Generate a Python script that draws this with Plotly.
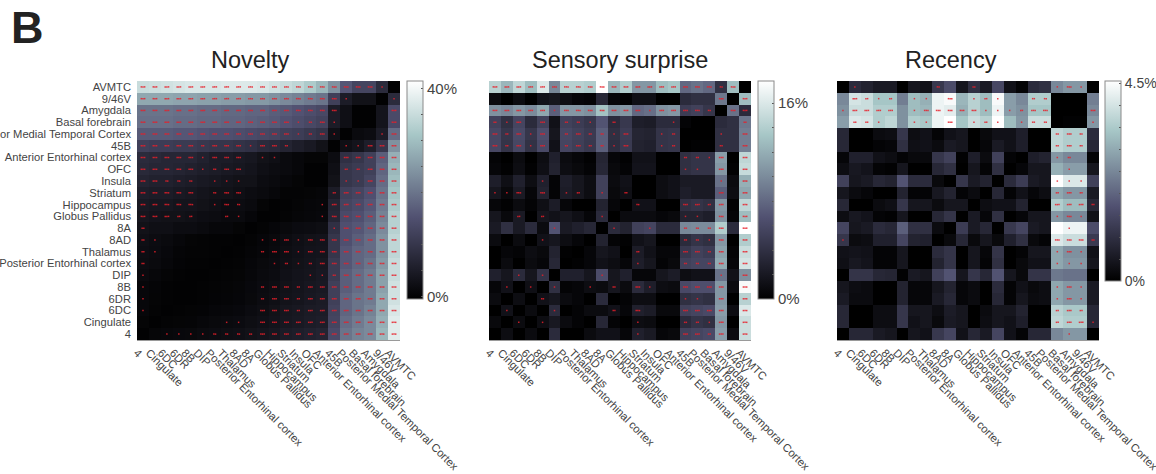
import plotly.graph_objects as go

REGIONS = ["AVMTC", "9/46V", "Amygdala", "Basal forebrain", "Posterior Medial Temporal Cortex", "45B",
           "Anterior Entorhinal cortex", "OFC", "Insula", "Striatum", "Hippocampus", "Globus Pallidus",
           "8A", "8AD", "Thalamus", "Posterior Entorhinal cortex", "DIP", "8B", "6DR", "6DC", "Cingulate", "4"]
X_LABELS = REGIONS[::-1]

# Novelty, percent
NOVELTY = [
 [35,35.5,36,36.5,37,37,37,37.5,37.5,37.5,37,36,35,34,32,29,24,16,13,13,8,0],
 [27,27,27,26.5,26.5,26,26,25.5,25.5,25,25,24,23,22,21,20,12,5,3,3,0,8],
 [20,20,20,19.5,19.5,19,19,18.5,18.5,18,18,17,16.5,15.5,14.5,13.5,5,2.5,0,0,3.5,14],
 [19.5,19.5,19.5,19,19,18.5,18.5,18,18,17.5,17,16.5,15.5,14.5,13.5,12.5,5,2.5,0,0,3.5,14],
 [16.5,16.5,16.5,16,16,15.5,15,15,14.5,14,13.5,13,12,11.5,10.5,9.5,2.5,0,1.5,2,5,19],
 [12,11.5,11.5,11,11,10.5,10,10,9.5,9,8,7.5,6.5,5.5,4.5,3,0,2.5,3.5,5.5,10,24],
 [8,7.5,7,7,7,6,5,5,4.5,4,3,2.5,1.5,1,0.5,0.5,2,9,10,12,17,28],
 [7.5,7,7,6.5,6,5.5,5,4.5,4,3.5,2.5,2,1.5,1,0,0,2.5,10,11,12,18,29],
 [6.5,6,6,5.5,5,4.5,4,3.5,3,3,2,1.5,1,0.5,0,0,3,10,11,13,19,30],
 [5.5,5,5,4.5,4,3.5,3,3,2.5,2,1.5,1,0.3,0.3,0.5,0.7,5,12,13,15,20,31],
 [4.5,4,4,3.5,3.5,3,2.5,2,2,1.5,0.5,0,0.2,0.5,0.8,1,6.5,13,14,16,21,32],
 [3.8,3.3,3,3,2.7,2.2,2,1.5,1.5,0.8,0,0,0.3,0.7,1,1.2,7,14,15,17,22,33],
 [3,2.5,2.5,2,2,1.5,1,1,0.5,0,0.3,0.8,1.3,1.8,2,2.3,9,15,16,18,23,33],
 [2.5,2,1.5,1,0.5,0.3,0.2,0.2,0,0.3,0.8,1.3,2,2.5,3,3.3,10,15,17,19,24,34],
 [2.2,1.8,1.2,0.6,0.3,0.3,0.1,0,0.2,0.6,1,1.5,2.3,2.8,3.3,3.5,10,16,18,19,24,34],
 [2,1.5,1,0.4,0.2,0.1,0,0.1,0.3,0.8,1.3,1.8,2.5,3,3.5,4,11,16,18,20,25,35],
 [1.5,1,0.5,0.2,0,0,0.2,0.3,0.5,1,1.5,2,2.8,3.3,3.7,4.3,11,17,19,21,26,35],
 [1,0.6,0.2,0,0,0.1,0.3,0.5,0.7,1.2,1.8,2.3,3,3.5,4,4.5,12,17,19,21,26,36],
 [1,0.5,0.2,0,0,0.2,0.4,0.6,0.8,1.3,2,2.5,3.2,3.7,4.3,4.8,12,18,20,21,27,36],
 [1,0.3,0,0.2,0.3,0.4,0.8,1,1.2,1.8,2.3,3,3.8,4.2,4.8,5,12.5,18,20,22,27,37],
 [0.5,0,0.3,0.5,0.6,1,1.3,1.5,1.8,2.3,2.8,3.3,4,4.5,5,5.5,13,19,21,23,28,38],
 [0,0.7,1,1.2,1.3,1.7,2,2.3,2.5,3,3.5,4,5,5.5,6,6.5,14,20,22,23,29,38],
]
NOVELTY_STARS = [
 "3333333333333333333310","3333333333333333310001","3333333333333333300003",
 "3333333333333123100003","3333333333333123100013","3333323331332000011333",
 "3333313330110000033333","3333312330000000022333","3322201110000000011333",
 "3333302330000000233333","3333301320000001333333","3332200210000001333333",
 "2000000000000000133333","2100000000123133333333","2100000000233133333333",
 "2000000000012123333333","1000000000000011233333","1000000000233233333333",
 "1000000000233233333333","1000000000333233333333","0000000110333333333333",
 "0011112222333333333333",
]

# Sensory surprise, percent of the colour-bar length
SENSORY_PCT_PER_UNIT = 0.178
SENSORY = [
 [80,70,82,72,90,55,80,80,78,100,70,78,60,60,72,75,45,48,45,22,72,0],
 [5,0,5,0,8,10,6,3,2,18,3,1,7,7,0,0,20,22,22,50,0,72],
 [58,55,60,56,65,42,60,60,58,74,58,60,45,47,58,60,28,30,25,0,48,20],
 [30,22,32,20,30,8,30,28,25,38,20,26,14,13,20,20,2,0,0,20,22,50],
 [33,25,34,25,36,10,33,30,27,42,22,28,17,16,24,25,0,0,0,22,22,52],
 [33,24,33,23,34,8,32,29,26,42,21,27,16,15,24,25,0,1,1,22,22,52],
 [2,0,5,0,6,15,5,3,1,17,3,1,8,8,0,0,22,24,24,62,0,82],
 [3,1,6,1,7,16,6,4,2,18,4,2,9,9,0,0,22,24,24,60,1,84],
 [14,7,15,6,15,2,14,10,6,30,5,8,0,0,6,8,12,12,12,48,5,68],
 [10,4,12,3,16,2,13,10,6,30,4,7,0,0,6,8,14,12,12,42,6,65],
 [3,1,5,2,7,13,3,0,0,16,3,0,8,8,0,0,22,24,22,60,1,82],
 [10,4,12,0,10,8,10,7,3,20,0,5,5,5,3,4,16,16,14,58,2,72],
 [12,22,12,20,5,38,12,15,18,0,20,16,30,32,20,20,55,56,56,78,20,100],
 [5,0,5,0,8,10,6,3,0,16,2,1,8,10,0,0,20,24,22,60,0,78],
 [0,3,2,6,4,16,1,0,3,10,8,0,13,8,3,3,26,30,28,63,2,85],
 [0,5,0,5,3,18,0,1,3,8,6,3,14,10,2,4,30,32,32,66,3,88],
 [15,10,20,10,24,0,15,15,10,35,10,15,3,3,10,13,6,8,8,48,8,58],
 [3,8,0,7,0,22,2,3,6,5,10,5,20,14,6,5,34,36,36,60,5,98],
 [5,0,6,0,8,10,5,3,0,20,0,2,6,6,0,0,22,24,22,60,0,80],
 [0,8,0,5,0,20,0,2,5,5,8,3,15,13,4,4,30,32,34,62,6,90],
 [4,0,5,0,6,11,5,2,0,18,2,0,6,5,0,0,20,24,22,60,0,85],
 [0,6,0,5,0,20,0,0,5,8,8,3,15,12,3,4,30,32,34,62,5,85],
]
SENSORY_STARS = [
 "3333333333333333333230","0000000000000000000303","3333313333333133332033",
 "2130302210200001000002","3231302322130012000103","3231302322130012000203",
 "0000000000000000221303","0000000000000000110303","0000100000000000000103",
 "1130301201020000000303","0000000000002000332303","0020200001000000110303",
 "0000010000100100222303","0000100000000000221303","0000000000002000332303",
 "0000000000001000222303","0010100001000000000103","0101010010203100333303",
 "0000200000000000110303","0100010000203000333303","0010100000001000221303",
 "0000000000001000332303",
]

# Recency, percent of the colour-bar length
RECENCY_PCT_PER_UNIT = 0.0455
RECENCY = [
 [0,20,16,12,12,0,10,8,26,35,10,22,12,33,8,2,20,22,55,60,60,0],
 [55,88,85,75,75,52,72,68,95,98,70,80,72,98,62,55,78,78,0,0,0,52],
 [58,85,85,78,78,58,72,70,95,92,68,80,72,95,62,58,75,75,0,0,0,55],
 [62,90,88,78,82,58,78,76,95,100,75,85,80,100,72,60,85,85,0,1,1,60],
 [18,0,0,5,6,25,6,8,2,8,10,0,4,8,8,14,0,0,82,78,78,20],
 [18,0,0,2,3,22,7,8,5,12,10,0,3,12,8,14,0,0,82,78,78,18],
 [3,15,15,8,6,2,4,4,25,30,1,14,5,30,2,0,14,16,60,55,55,2],
 [6,11,9,2,1,10,0,0,18,22,0,10,2,22,0,3,10,10,68,62,62,10],
 [30,10,12,18,16,38,20,20,4,0,25,12,16,0,20,28,12,10,100,90,90,30],
 [10,5,3,0,0,16,2,2,11,16,2,5,0,18,2,8,3,6,65,60,60,12],
 [18,0,0,5,7,25,10,10,5,10,10,0,6,8,8,16,0,0,78,72,72,18],
 [6,11,9,2,1,10,0,0,18,24,0,12,3,22,0,3,10,10,60,55,55,8],
 [32,10,12,20,18,42,22,22,5,0,28,12,18,0,26,32,12,10,100,95,95,35],
 [25,5,6,15,15,32,16,15,0,4,18,4,10,4,15,22,4,2,90,85,85,27],
 [8,9,8,2,2,10,0,0,20,24,0,10,3,24,0,2,10,10,65,58,58,8],
 [7,11,9,2,2,10,0,0,16,24,0,10,2,22,0,4,8,8,65,60,60,10],
 [0,24,24,18,17,1,12,10,30,38,10,25,18,38,10,4,24,24,50,48,48,0],
 [10,6,5,0,0,16,3,3,10,16,3,5,0,20,2,8,4,6,65,60,60,12],
 [12,5,5,0,0,16,3,3,12,18,3,5,0,18,2,10,5,6,65,60,60,12],
 [18,0,0,6,6,25,10,10,6,13,10,0,5,10,10,16,0,0,80,76,76,18],
 [18,0,0,6,6,25,8,10,4,12,10,0,6,10,8,14,0,0,82,78,78,18],
 [0,18,18,12,10,0,10,8,26,32,8,18,12,32,8,2,18,18,55,60,60,0],
]
RECENCY_STARS = [
 "0100000020020000001310","0321201103012100220000","1333301333331112330003",
 "0221001103012101220001","0000000000000000002320","0000000000000000002320",
 "0000000000000000001200","0000000000000000000100","0000000000000000001110",
 "0000000000000000002320","0000000000000000003332","0000000000000000001310",
 "0000000000000000000100","1000000000000000003332","0000000000000000001310",
 "0000000000000000001110","0000000000000000000000","0000000000000000001310",
 "0000000000000000001310","0000000000000000002320","0000000000000000002331",
 "0000000000000000000100",
]

PANELS = [
 dict(title="Novelty", title_x=250, z=NOVELTY, stars=NOVELTY_STARS, x0=137, x1=400, zmin=-0.4, zmax=41.5, step=5, top=40, top_text="40%", bar_x=407, bar_bottom=299, ytitles=True, bar_font=15),
 dict(title="Sensory surprise", title_x=620, z=[[v*SENSORY_PCT_PER_UNIT for v in r] for r in SENSORY], stars=SENSORY_STARS, x0=489, x1=751, zmin=0, zmax=17.8, step=2, top=16, top_text="16%", bar_x=758, bar_bottom=299, ytitles=False, bar_font=15),
 dict(title="Recency", title_x=951, z=[[v*RECENCY_PCT_PER_UNIT for v in r] for r in RECENCY], stars=RECENCY_STARS, x0=837, x1=1099, zmin=0, zmax=4.55, step=0.5, top=4.5, top_text="4.5%", bar_x=1105, bar_bottom=281, ytitles=False, bar_font=14),
]

W, H = 1156, 474
TOP, BOTTOM = 81, 340
BONE = [[0, "#000000"], [0.375, "#515171"], [0.75, "#a6c6c6"], [1, "#ffffff"]]
TEXT = "#444444"

fig = go.Figure()
layout = dict(width=W, height=H, margin=dict(l=0, r=0, t=0, b=0, autoexpand=False), paper_bgcolor="white", plot_bgcolor="white",
              font=dict(family="Liberation Sans", color=TEXT), showlegend=False)
annotations = [dict(text="<b>B</b>", x=9/W, y=1.0, xref="paper", yref="paper", xanchor="left", yanchor="top",
                    showarrow=False, font=dict(size=45, color="#222222", family="Liberation Sans"))]

for i, p in enumerate(PANELS):
    suffix = "" if i == 0 else str(i + 1)
    n = len(REGIONS)
    ticks = []
    v = 0.0
    while v <= p["top"] + 1e-9:
        ticks.append(round(v, 3))
        v += p["step"]
    ticktext = ["0%"] + [""] * (len(ticks) - 2) + [p["top_text"]]
    fig.add_trace(go.Heatmap(z=p["z"], xaxis="x" + suffix, yaxis="y" + suffix, colorscale=BONE, zmin=p["zmin"], zmax=p["zmax"],
        hoverinfo="skip", xgap=0, ygap=0,
        colorbar=dict(x=p["bar_x"]/W, xanchor="left", xpad=0, y=1-TOP/H, yanchor="top", ypad=0, lenmode="pixels",
                      len=p["bar_bottom"]-TOP, thicknessmode="pixels", thickness=16, outlinecolor="#8a8a8a", outlinewidth=1,
                      borderwidth=0, tickmode="array", tickvals=ticks, ticktext=ticktext, ticks="inside", ticklen=2,
                      tickcolor="#555555", tickwidth=1, tickfont=dict(size=p["bar_font"], color=TEXT, family="Liberation Sans"))))
    xs, ys = [], []
    for r, row in enumerate(p["stars"]):
        for c, ch in enumerate(row):
            k = int(ch)
            for s in range(k):
                xs.append(c + (s - (k - 1) / 2) * 0.14)
                ys.append(r)
    fig.add_trace(go.Scatter(x=xs, y=ys, mode="markers", xaxis="x" + suffix, yaxis="y" + suffix, hoverinfo="skip",
                             marker=dict(symbol="square", size=1.5, color="#e8202a", opacity=0.85, line=dict(width=0))))
    layout["xaxis" + suffix] = dict(domain=[p["x0"]/W, p["x1"]/W], anchor="y" + suffix, range=[-0.5, n - 0.5], tickmode="array",
        tickvals=[j - 0.5 for j in range(n)], ticktext=X_LABELS, tickangle=45, ticks="", showgrid=False, zeroline=False,
        ticklabeloverflow="allow", ticklabelstandoff=1,
        showline=True, linecolor="#9a9a9a", linewidth=1, tickfont=dict(size=11.2, color=TEXT, family="Liberation Sans"))
    layout["yaxis" + suffix] = dict(domain=[1-BOTTOM/H, 1-TOP/H], anchor="x" + suffix, range=[n - 0.5, -0.5], tickmode="array",
        tickvals=list(range(n)), ticktext=REGIONS if p["ytitles"] else [""] * n, ticks="", showgrid=False, zeroline=False,
        ticklabeloverflow="allow", ticklabelstandoff=5,
        showline=False, tickfont=dict(size=11.2, color=TEXT, family="Liberation Sans"))
    annotations.append(dict(text=p["title"], x=p["title_x"]/W, y=1-60/H, xref="paper", yref="paper", xanchor="center",
                            yanchor="middle", showarrow=False, font=dict(size=23.5, color="#222222", family="Liberation Sans")))

layout["annotations"] = annotations
fig.update_layout(**layout)
fig.write_html("out.html", config={"displayModeBar": False},
               post_script="document.body.style.margin='0';document.body.style.overflow='hidden';")
